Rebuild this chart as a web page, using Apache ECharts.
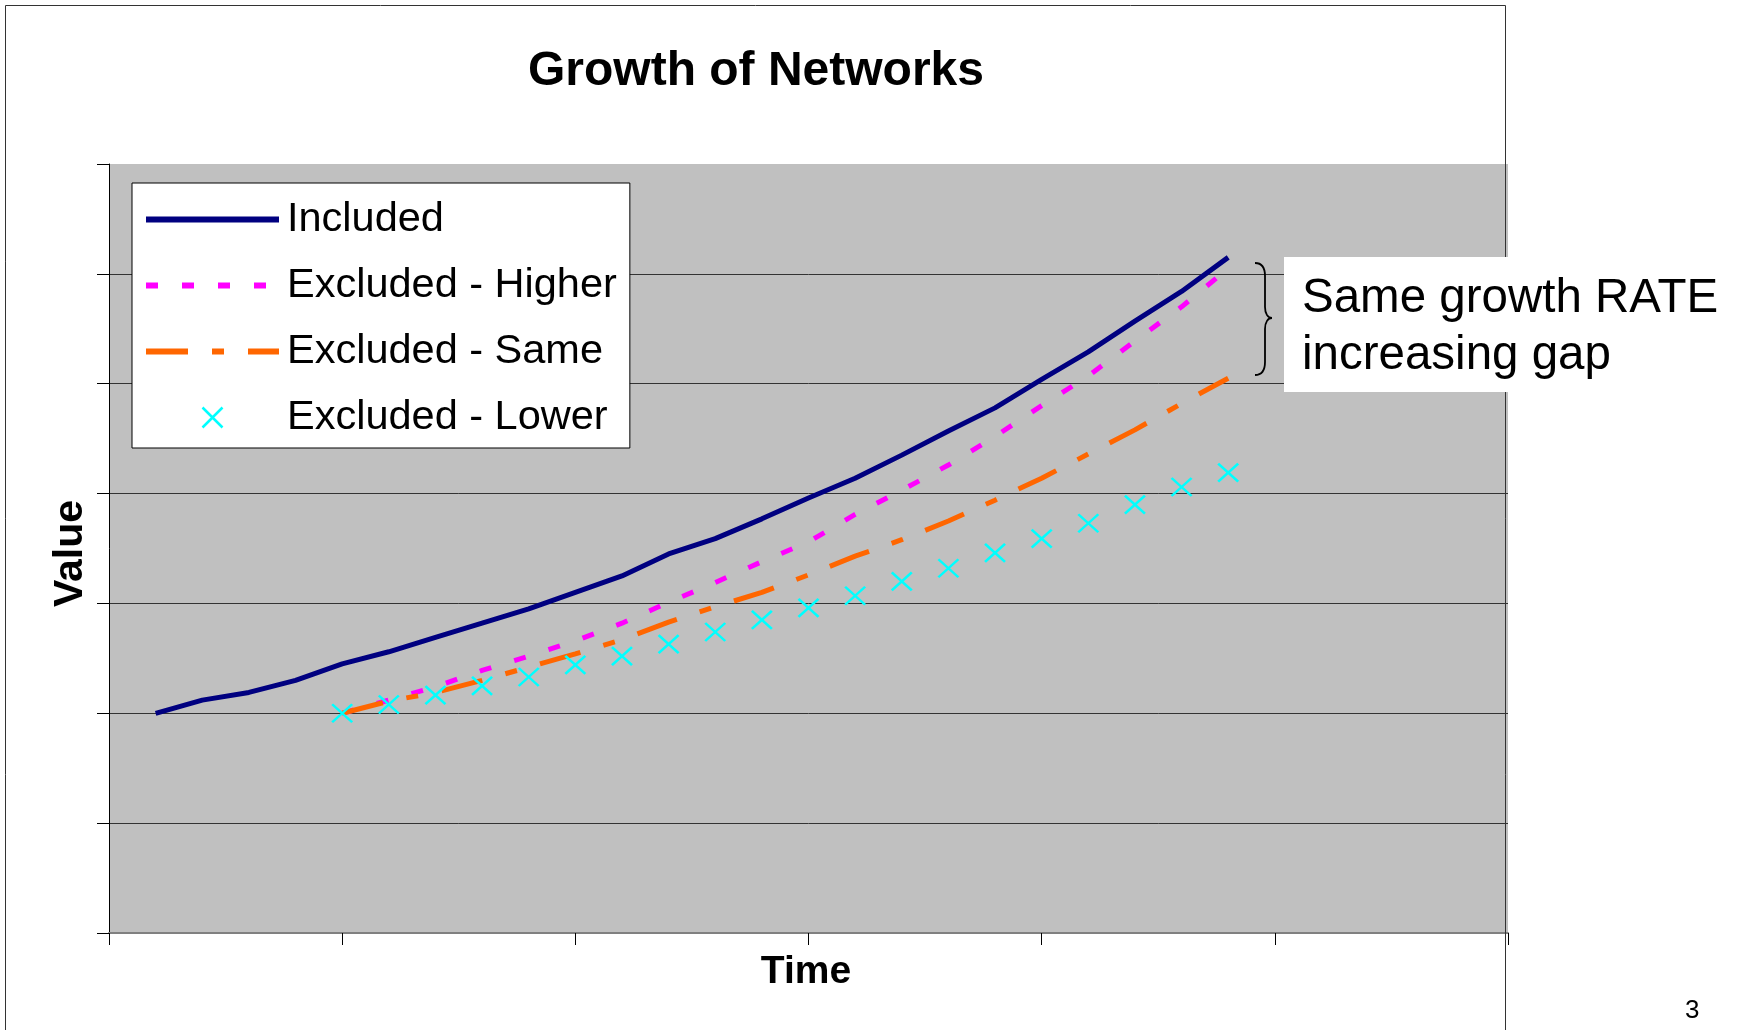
<!DOCTYPE html>
<html>
<head>
<meta charset="utf-8">
<title>Growth of Networks</title>
<script src="https://cdn.jsdelivr.net/npm/echarts@6/dist/echarts.min.js"></script>
<style>
  html, body { margin: 0; padding: 0; background: #fff; }
  #chart { width: 1738px; height: 1030px; }
</style>
</head>
<body>
<div id="chart"></div>
<script>
// time steps
var timesIncluded = [1, 2, 3, 4, 5, 6, 7, 8, 9, 10, 11, 12, 13, 14, 15, 16, 17, 18, 19, 20, 21, 22, 23, 24];
var timesExcluded = [5, 6, 7, 8, 9, 10, 11, 12, 13, 14, 15, 16, 17, 18, 19, 20, 21, 22, 23, 24];

// values
var included = [2.00, 2.12, 2.19, 2.30, 2.45, 2.56, 2.69, 2.82, 2.95, 3.10, 3.25, 3.45,
                3.59, 3.77, 3.96, 4.14, 4.35, 4.57, 4.78, 5.04, 5.29, 5.57, 5.84, 6.15];
var higher = [2.00, 2.12, 2.24, 2.39, 2.52, 2.66, 2.82, 3.01, 3.19, 3.38,
              3.56, 3.81, 4.03, 4.26, 4.52, 4.80, 5.07, 5.39, 5.70, 6.05];
var same = [2.00, 2.11, 2.19, 2.30, 2.42, 2.54, 2.67, 2.83, 2.97, 3.10,
            3.26, 3.43, 3.58, 3.75, 3.94, 4.14, 4.36, 4.58, 4.82, 5.05];
var lower = [2.00, 2.08, 2.165, 2.25, 2.33, 2.44, 2.52, 2.63, 2.74, 2.85,
             2.96, 3.07, 3.20, 3.32, 3.46, 3.59, 3.73, 3.90, 4.06, 4.19];

var seriesNames = ['Included', 'Excluded - Higher', 'Excluded - Same', 'Excluded - Lower'];

var FONT = "'Liberation Sans', Arial, sans-serif";

function pairs(xs, ys) {
    return xs.map(function (x, i) { return [x, ys[i]]; });
}

var myChart = echarts.init(document.getElementById('chart'), null, { renderer: 'canvas' });

var option = {
    animation: false,
    backgroundColor: '#fff',
    title: {
        text: 'Growth of Networks',
        left: 756,
        top: 48,
        padding: 0,
        textAlign: 'center',
        textStyle: {
            fontFamily: FONT,
            fontWeight: 'bold',
            fontSize: 48,
            lineHeight: 48,
            color: '#000'
        }
    },
    grid: {
        left: 109,
        top: 164,
        width: 1399,
        height: 769,
        show: true,
        backgroundColor: '#C0C0C0',
        borderWidth: 0,
        containLabel: false,
        outerBoundsMode: 'none'
    },
    legend: {
        orient: 'vertical',
        left: 132,
        top: 183,
        padding: [12, 13, 6, 11],
        backgroundColor: '#fff',
        borderColor: '#000',
        borderWidth: 1,
        borderRadius: 0,
        itemWidth: 133,
        itemHeight: 25,
        itemGap: 17,
        selectedMode: false,
        lineStyle: { width: 6 },
        textStyle: {
            fontFamily: FONT,
            fontSize: 41.5,
            lineHeight: 42,
            color: '#000',
            padding: [7, 0, 0, 3]
        },
        data: [
            { name: seriesNames[0], itemStyle: { opacity: 0 } },
            { name: seriesNames[1], itemStyle: { opacity: 0 } },
            { name: seriesNames[2], itemStyle: { opacity: 0 } },
            { name: seriesNames[3], itemStyle: { opacity: 1, borderWidth: 2.5 }, lineStyle: { width: 0 } }
        ]
    },
    xAxis: {
        type: 'value',
        min: 0,
        max: 30,
        interval: 5,
        name: 'Time',
        nameLocation: 'middle',
        nameGap: 20,
        nameTextStyle: {
            fontFamily: FONT,
            fontWeight: 'bold',
            fontSize: 39,
            lineHeight: 39,
            color: '#000',
            padding: [0, 5, 0, 0]
        },
        axisLine: { show: true, onZero: false, lineStyle: { color: '#808080', width: 2 } },
        axisTick: { show: true, inside: false, length: 12, lineStyle: { color: '#000', width: 1 } },
        axisLabel: { show: false },
        splitLine: { show: false }
    },
    yAxis: {
        type: 'value',
        min: 0,
        max: 7,
        interval: 1,
        name: 'Value',
        nameLocation: 'middle',
        nameGap: 18,
        nameTextStyle: {
            fontFamily: FONT,
            fontWeight: 'bold',
            fontSize: 41,
            lineHeight: 41,
            color: '#000',
            padding: [0, 10, 0, 0]
        },
        axisLine: { show: true, onZero: false, lineStyle: { color: '#000', width: 1 } },
        axisTick: { show: true, inside: false, length: 12, lineStyle: { color: '#000', width: 1 } },
        axisLabel: { show: false },
        splitLine: { show: true, showMaxLine: false, lineStyle: { color: '#333', width: 1 } }
    },
    series: [
        {
            name: seriesNames[0],
            type: 'line',
            data: pairs(timesIncluded, included),
            symbol: 'none',
            itemStyle: { color: '#000080' },
            lineStyle: { color: '#000080', width: 5 },
            emphasis: { disabled: true },
            silent: true
        },
        {
            name: seriesNames[1],
            type: 'line',
            data: pairs(timesExcluded, higher),
            symbol: 'none',
            itemStyle: { color: '#FF00FF' },
            lineStyle: { color: '#FF00FF', width: 5, type: [12, 24] },
            emphasis: { disabled: true },
            silent: true
        },
        {
            name: seriesNames[2],
            type: 'line',
            data: pairs(timesExcluded, same),
            symbol: 'none',
            itemStyle: { color: '#FF6600' },
            lineStyle: { color: '#FF6600', width: 5, type: [42, 24, 12, 24] },
            emphasis: { disabled: true },
            silent: true
        },
        {
            name: seriesNames[3],
            type: 'line',
            data: pairs(timesExcluded, lower),
            symbol: 'path://M0,0L10,10M10,0L0,10',
            symbolSize: [20, 18],
            showSymbol: true,
            showAllSymbol: true,
            itemStyle: { color: '#00FFFF', borderColor: '#00FFFF', borderWidth: 2.5 },
            lineStyle: { color: '#00FFFF', width: 0 },
            emphasis: { disabled: true },
            silent: true
        }
    ],
    graphic: {
        elements: [
            // slide / chart frame
            {
                type: 'rect', silent: true, z: 100,
                shape: { x: 5.5, y: 5.5, width: 1500, height: 1100 },
                style: { fill: null, stroke: '#333', lineWidth: 1 }
            },
            // annotation box
            {
                type: 'rect', silent: true, z: 101,
                shape: { x: 1284, y: 257, width: 470, height: 135 },
                style: { fill: '#fff', stroke: null }
            },
            {
                type: 'text', silent: true, z: 102,
                x: 1302, y: 270.5,
                style: {
                    text: 'Same growth RATE\nincreasing gap',
                    font: '47.5px ' + FONT,
                    lineHeight: 57,
                    fill: '#000',
                    align: 'left', verticalAlign: 'top',
                    textAlign: 'left', textVerticalAlign: 'top'
                }
            },
            // brace
            {
                type: 'bezierCurve', silent: true, z: 102,
                shape: { x1: 1255, y1: 263, x2: 1265, y2: 276, cpx1: 1262, cpy1: 263, cpx2: 1265, cpy2: 268 },
                style: { stroke: '#000', lineWidth: 1.8, fill: null }
            },
            {
                type: 'line', silent: true, z: 102,
                shape: { x1: 1265, y1: 276, x2: 1265, y2: 307 },
                style: { stroke: '#000', lineWidth: 1.8 }
            },
            {
                type: 'bezierCurve', silent: true, z: 102,
                shape: { x1: 1265, y1: 307, x2: 1272, y2: 318, cpx1: 1265, cpy1: 314, cpx2: 1268, cpy2: 318 },
                style: { stroke: '#000', lineWidth: 1.8, fill: null }
            },
            {
                type: 'bezierCurve', silent: true, z: 102,
                shape: { x1: 1272, y1: 318, x2: 1265, y2: 329, cpx1: 1268, cpy1: 318, cpx2: 1265, cpy2: 322 },
                style: { stroke: '#000', lineWidth: 1.8, fill: null }
            },
            {
                type: 'line', silent: true, z: 102,
                shape: { x1: 1265, y1: 329, x2: 1265, y2: 362 },
                style: { stroke: '#000', lineWidth: 1.8 }
            },
            {
                type: 'bezierCurve', silent: true, z: 102,
                shape: { x1: 1265, y1: 362, x2: 1255, y2: 375, cpx1: 1265, cpy1: 370, cpx2: 1262, cpy2: 375 },
                style: { stroke: '#000', lineWidth: 1.8, fill: null }
            },
            // slide number
            {
                type: 'text', silent: true, z: 102,
                x: 1685, y: 1011,
                style: {
                    text: '3',
                    font: '26px ' + FONT,
                    fill: '#000',
                    align: 'left', verticalAlign: 'middle',
                    textAlign: 'left', textVerticalAlign: 'middle'
                }
            }
        ]
    }
};

myChart.setOption(option);
window.addEventListener('resize', myChart.resize);
</script>
</body>
</html>
